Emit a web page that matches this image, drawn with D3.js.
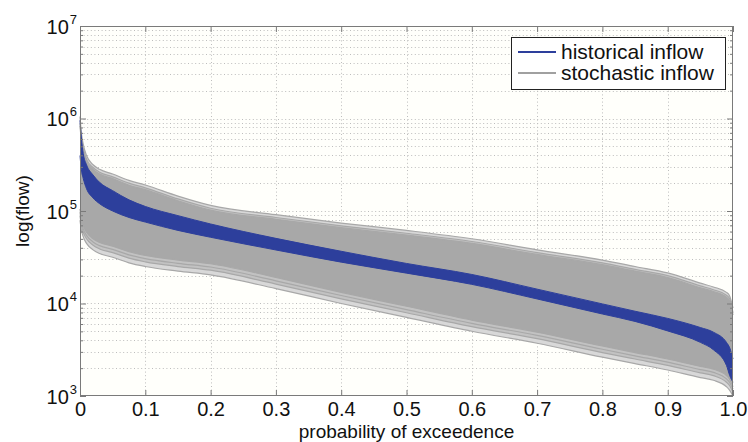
<!DOCTYPE html>
<html>
<head>
<meta charset="utf-8">
<script src="https://cdn.jsdelivr.net/npm/d3@7"></script>
<style>
  html, body { margin: 0; padding: 0; background: #ffffff; }
  svg { display: block; font-family: "Liberation Sans", Arial, Helvetica, sans-serif; }
</style>
</head>
<body>
<svg id="chart" width="748" height="442"></svg>
<script>
// ---- data ----
const prob = [0, 0.002, 0.005, 0.01, 0.02, 0.03, 0.05, 0.075, 0.1, 0.15, 0.2, 0.3, 0.4, 0.5, 0.6, 0.7, 0.8, 0.85, 0.9, 0.95, 0.97, 0.99, 0.995, 1.0];

// stochastic inflow ensemble: envelope and fringe curves
const stochMax    = [1050000, 708000, 525000, 398000, 316000, 282000, 251000, 214000, 191000, 145000, 115000, 91200, 74100, 61700, 50100, 38000, 29500, 25100, 21400, 16600, 15100, 13200, 12000, 8910];
const stochUpper2 = [891000, 631000, 479000, 363000, 295000, 263000, 234000, 200000, 178000, 135000, 107000, 85100, 69200, 57500, 46800, 35500, 27500, 23400, 20000, 15500, 14100, 12300, 11200, 7940];
const stochCoreHi = [830000, 590000, 450000, 345000, 282000, 251000, 224000, 190000, 170000, 129000, 102000, 81300, 66100, 55000, 44700, 33900, 26300, 22400, 19100, 14800, 13500, 11700, 10500, 7500];
const stochCoreLo = [105000, 83200, 69200, 58900, 50100, 45700, 41700, 36300, 33100, 29500, 26900, 19100, 13200, 9330, 6610, 4900, 3470, 2950, 2510, 2090, 1950, 1660, 1510, 1260];
const stochLower3 = [97000, 77000, 64000, 54500, 46300, 42200, 38500, 33500, 30600, 27200, 24800, 17600, 12200, 8600, 6100, 4520, 3200, 2720, 2320, 1930, 1800, 1530, 1400, 1180];
const stochLower2 = [89100, 70800, 58900, 50100, 42700, 38900, 35500, 30900, 28200, 25100, 22900, 16200, 11200, 7940, 5620, 4170, 2950, 2510, 2140, 1780, 1660, 1410, 1290, 1100];
const stochMin    = [79400, 63100, 52500, 44700, 38000, 34700, 31600, 27500, 25100, 22400, 20400, 14500, 10000, 7080, 5010, 3720, 2630, 2240, 1910, 1580, 1480, 1260, 1150, 1000];

// historical inflow band
const histUpper = [955000, 631000, 417000, 316000, 245000, 204000, 166000, 132000, 112000, 89100, 72400, 50600, 36700, 27100, 20600, 14300, 9900, 8250, 6900, 5500, 4900, 3800, 3310, 2510];
const histLower = [398000, 282000, 224000, 174000, 138000, 120000, 100000, 85100, 75900, 61700, 52000, 37900, 28000, 21300, 16100, 11200, 7700, 6400, 5050, 3800, 3160, 2140, 1660, 1410];

const xTickValues = [0, 0.1, 0.2, 0.3, 0.4, 0.5, 0.6, 0.7, 0.8, 0.9, 1.0];
const xTickLabels = ["0", "0.1", "0.2", "0.3", "0.4", "0.5", "0.6", "0.7", "0.8", "0.9", "1.0"];
const yTickValues = [1e3, 1e4, 1e5, 1e6, 1e7];
const yTickExps = ["3", "4", "5", "6", "7"];
const legendLabels = ["historical inflow", "stochastic inflow"];
const xTitle = "probability of exceedence";
const yTitle = "log(flow)";

// ---- layout ----
const W = 748, H = 442;
const L = 80, R = 733, T = 26, B = 396;
const blue = "#2d3f9c", gray = "#a8a8a8";
const font = "Liberation Sans, Arial, sans-serif";

const svg = d3.select("#chart");
const x = d3.scaleLinear().domain([0, 1]).range([L, R]);
const y = d3.scaleLog().domain([1e3, 1e7]).range([B, T]);

// plot background
svg.append("rect").attr("x", L).attr("y", T).attr("width", R - L).attr("height", B - T).attr("fill", "#fffffb");

// grid
const minorVals = [];
for (let e = 3; e < 7; e++) for (let m = 1; m <= 9; m++) minorVals.push(m * Math.pow(10, e));
minorVals.push(1e7);
const grid = svg.append("g").attr("stroke", "#bdbdbd").attr("stroke-width", 1).attr("stroke-dasharray", "1,2.6");
grid.selectAll("line.h").data(minorVals.filter(v => v > 1e3 && v < 1e7)).join("line")
  .attr("x1", L).attr("x2", R).attr("y1", d => Math.round(y(d)) + 0.5).attr("y2", d => Math.round(y(d)) + 0.5);
grid.selectAll("line.v").data(xTickValues.filter(v => v > 0 && v < 1)).join("line")
  .attr("y1", T).attr("y2", B).attr("x1", d => Math.round(x(d)) + 0.5).attr("x2", d => Math.round(x(d)) + 0.5);

const rows = prob.map((p, i) => ({ p, i }));
const curve = d3.curveMonotoneX;
const area = (hi, lo) => d3.area().curve(curve).x(d => x(d.p)).y0(d => y(lo[d.i])).y1(d => y(hi[d.i]));
const line = (arr) => d3.line().curve(curve).x(d => x(d.p)).y(d => y(arr[d.i]));

const plot = svg.append("g");
// stochastic ensemble: faint fringe, solid core, individual edge lines
plot.append("path").attr("d", area(stochMax, stochMin)(rows)).attr("fill", "#d8d8d8");
plot.append("path").attr("d", area(stochUpper2, stochLower2)(rows)).attr("fill", "#c2c2c2");
plot.append("path").attr("d", area(stochCoreHi, stochCoreLo)(rows)).attr("fill", gray);
[stochMax, stochUpper2, stochCoreHi, stochCoreLo, stochLower3, stochLower2, stochMin].forEach(arr => {
  plot.append("path").attr("d", line(arr)(rows)).attr("fill", "none").attr("stroke", gray).attr("stroke-width", 1.2);
});
// historical band
plot.append("path").attr("d", area(histUpper, histLower)(rows)).attr("fill", blue);
plot.append("path").attr("d", line(histUpper)(rows)).attr("fill", "none").attr("stroke", blue).attr("stroke-width", 1);
plot.append("path").attr("d", line(histLower)(rows)).attr("fill", "none").attr("stroke", blue).attr("stroke-width", 1);

// axes box
svg.append("rect").attr("x", L + 0.5).attr("y", T + 0.5).attr("width", R - L - 1).attr("height", B - T - 1)
  .attr("fill", "none").attr("stroke", "#7a7a7a").attr("stroke-width", 1);

// x axis bottom
const xAxis = d3.axisBottom(x).tickValues(xTickValues).tickFormat((d, i) => xTickLabels[i]).tickSizeInner(-6).tickSizeOuter(0).tickPadding(6);
const gx = svg.append("g").attr("transform", `translate(0,${B})`).call(xAxis);
gx.select(".domain").remove();
gx.selectAll("line").attr("stroke", "#7a7a7a");
gx.selectAll("text").attr("font-size", 20).attr("fill", "#111").style("font-family", font);
// x axis top ticks
const gxt = svg.append("g").attr("transform", `translate(0,${T})`).call(d3.axisTop(x).tickValues(xTickValues).tickFormat("").tickSizeInner(-6).tickSizeOuter(0));
gxt.select(".domain").remove();
gxt.selectAll("line").attr("stroke", "#7a7a7a");

// y axis left (major with labels)
const yAxis = d3.axisLeft(y).tickValues(yTickValues).tickFormat(() => "").tickSizeInner(-6).tickSizeOuter(0);
const gy = svg.append("g").attr("transform", `translate(${L},0)`).call(yAxis);
gy.select(".domain").remove();
gy.selectAll("line").attr("stroke", "#7a7a7a");
gy.selectAll(".tick text").each(function(d, i) {
  const t = d3.select(this);
  t.text(null).attr("font-size", 20).attr("fill", "#111").attr("x", -3).attr("dy", "0.36em").attr("text-anchor", "end")
    .style("font-family", font);
  t.append("tspan").text("10");
  t.append("tspan").attr("font-size", 13).attr("dy", "-0.75em").attr("dx", "1").text(yTickExps[i]);
});
// y minor ticks left and right
const minorOnly = minorVals.filter(v => !yTickValues.includes(v));
const gym = svg.append("g").attr("transform", `translate(${L},0)`).call(d3.axisLeft(y).tickValues(minorOnly).tickFormat("").tickSizeInner(-3).tickSizeOuter(0));
gym.select(".domain").remove(); gym.selectAll("line").attr("stroke", "#7a7a7a");
const gyr = svg.append("g").attr("transform", `translate(${R},0)`).call(d3.axisRight(y).tickValues(yTickValues).tickFormat("").tickSizeInner(-6).tickSizeOuter(0));
gyr.select(".domain").remove(); gyr.selectAll("line").attr("stroke", "#7a7a7a");
const gyrm = svg.append("g").attr("transform", `translate(${R},0)`).call(d3.axisRight(y).tickValues(minorOnly).tickFormat("").tickSizeInner(-3).tickSizeOuter(0));
gyrm.select(".domain").remove(); gyrm.selectAll("line").attr("stroke", "#7a7a7a");

// titles
svg.append("text").attr("x", (L + R) / 2).attr("y", 438).attr("text-anchor", "middle").attr("font-size", 19).attr("fill", "#111").text(xTitle);
svg.append("text").attr("transform", `translate(29,${(T + B) / 2}) rotate(-90)`).attr("text-anchor", "middle").attr("font-size", 19).attr("fill", "#111").text(yTitle);

// legend
const lg = svg.append("g").attr("transform", "translate(511,37)");
lg.append("rect").attr("x", 0.5).attr("y", 0.5).attr("width", 214).attr("height", 52).attr("fill", "#ffffff").attr("stroke", "#222").attr("stroke-width", 1);
const legColors = [blue, "#a0a0a0"];
legendLabels.forEach((lab, i) => {
  const yy = 15 + i * 21;
  lg.append("line").attr("x1", 7).attr("x2", 45).attr("y1", yy).attr("y2", yy).attr("stroke", legColors[i]).attr("stroke-width", 2);
  lg.append("text").attr("x", 50).attr("y", yy).attr("dy", "0.35em").attr("font-size", 21).attr("fill", "#111").text(lab);
});
</script>
</body>
</html>
